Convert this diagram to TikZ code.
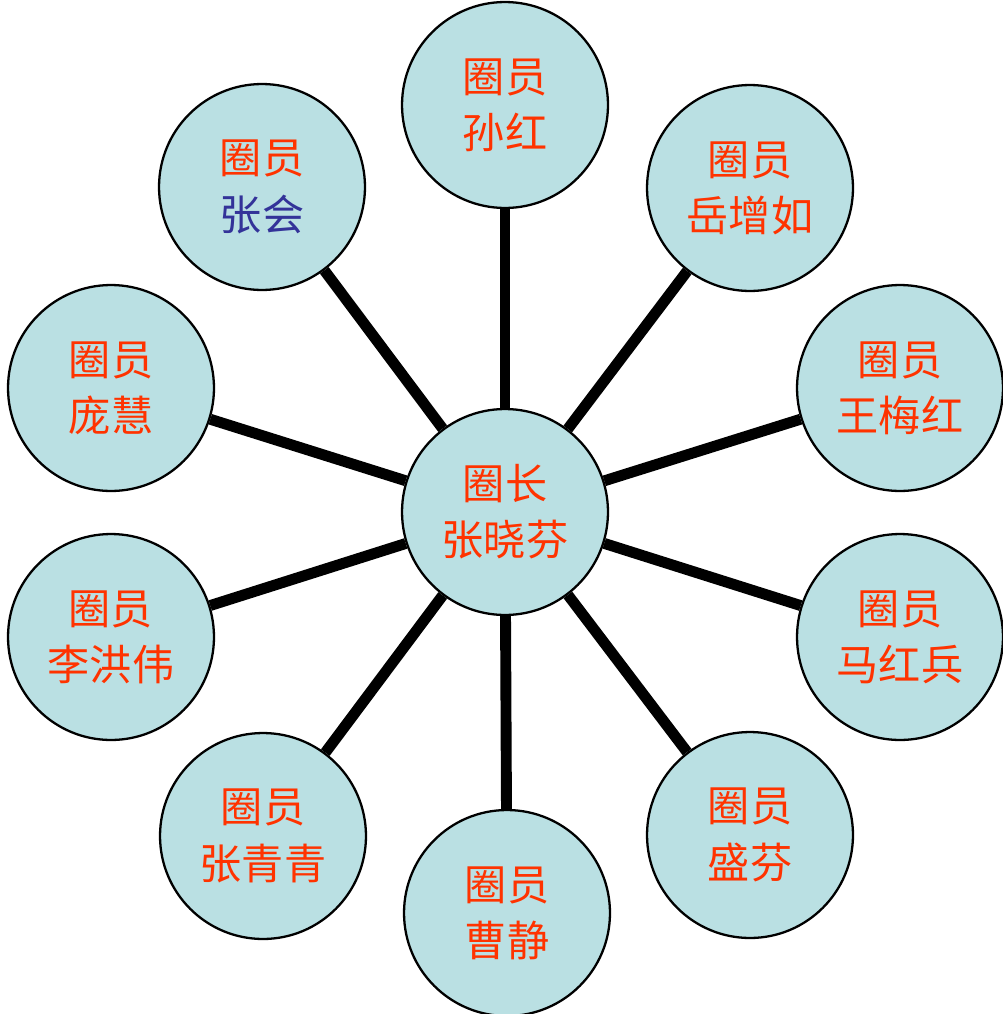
\documentclass[tikz,border=0pt]{standalone}
\usepackage{fontspec}
\newfontfamily\cjk{Noto Sans CJK SC}
\usepackage{tikz}

\definecolor{circlefill}{HTML}{BAE0E3}
\definecolor{redtext}{HTML}{FF3300}
\definecolor{bluetext}{HTML}{333399}

\begin{document}
\begin{tikzpicture}
        [
        x=0.02cm,y=-0.02cm,
        vertex/.style={circle,draw,line width=1.3pt,fill=circlefill,minimum size=4.12cm,
            inner sep=0pt,align=center,font=\cjk\fontsize{24}{32}\selectfont,text=redtext},
        edge/.style={line width=6.2pt}
        ]
    \useasboundingbox (0,0) rectangle (1003,1014);
    \node[vertex] (0) at (505,512) {圈长\\张晓芬};
    \node[vertex] (1) at (505,105) {圈员\\孙红};
    \node[vertex] (2) at (750,188) {圈员\\岳增如};
    \node[vertex] (3) at (900,388) {圈员\\王梅红};
    \node[vertex] (4) at (900,637) {圈员\\马红兵};
    \node[vertex] (5) at (750,835) {圈员\\盛芬};
    \node[vertex] (6) at (507,913) {圈员\\曹静};
    \node[vertex] (7) at (263,836) {圈员\\张青青};
    \node[vertex] (8) at (111,637) {圈员\\李洪伟};
    \node[vertex] (9) at (111,388) {圈员\\庞慧};
    \node[vertex] (10) at (262,187) {圈员\\\textcolor{bluetext}{张会}};
    \draw[edge] (0) -- (1);
    \draw[edge] (0) -- (2);
    \draw[edge] (0) -- (3);
    \draw[edge] (0) -- (4);
    \draw[edge] (0) -- (5);
    \draw[edge] (0) -- (6);
    \draw[edge] (0) -- (7);
    \draw[edge] (0) -- (8);
    \draw[edge] (0) -- (9);
    \draw[edge] (0) -- (10);
    \end{tikzpicture}
\end{document}
